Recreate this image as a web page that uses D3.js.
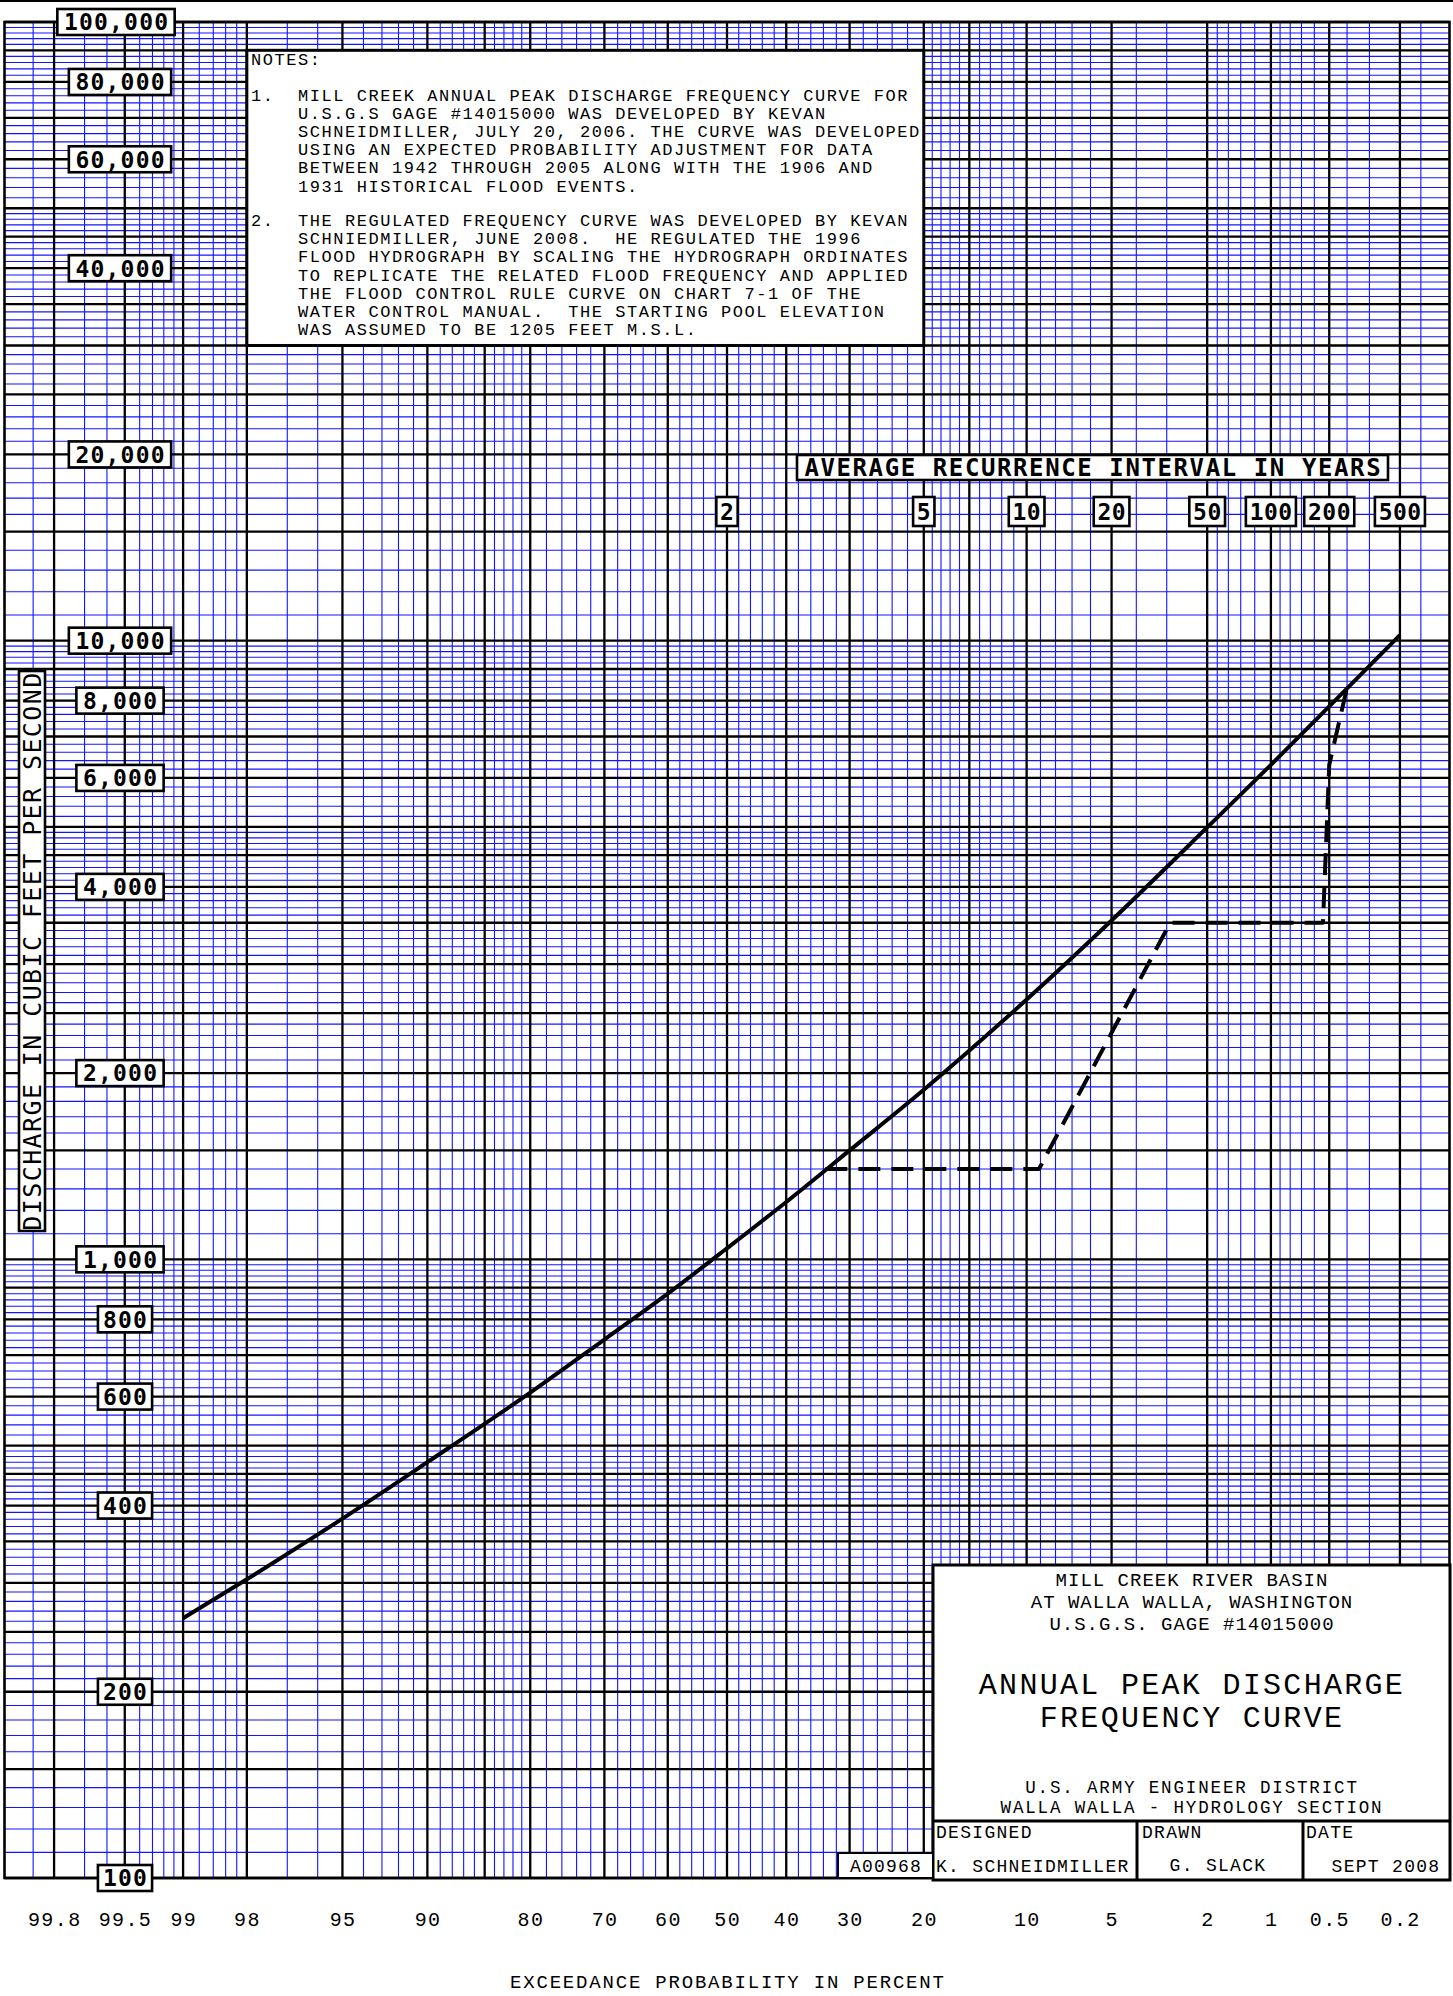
<!DOCTYPE html>
<html>
<head>
<meta charset="utf-8">
<script src="https://cdn.jsdelivr.net/npm/d3@7"></script>
<style>
  html, body { margin: 0; padding: 0; background: #fff; }
  svg { display: block; }
  text { white-space: pre; }
</style>
</head>
<body>
<svg id="chart"></svg>
<script>
// ---- Unregulated annual peak discharge frequency curve (exceedance %, cfs)
const exceedancePct = [99, 98, 95, 90, 80, 70, 60, 50, 40, 30, 20, 10, 5, 2, 1, 0.5, 0.2];
const dischargeCfs  = [263, 304, 381, 470, 609, 742, 880, 1042, 1238, 1500, 1880, 2630, 3530, 4990, 6300, 7830, 10210];

// ---- Regulated frequency curve (exceedance %, cfs)
const regulatedPct = [33.7, 9.1, 2.9, 0.54, 0.5, 0.4];
const regulatedCfs = [1400, 1400, 3500, 3500, 6300, 8400];

// ---- Probability axis
const probTickLabels = ["99.8", "99.5", "99", "98", "95", "90", "80", "70", "60", "50", "40", "30", "20", "10", "5", "2", "1", "0.5", "0.2"];
const majorProbLines = [99.8, 99.5, 99, 98, 95, 90, 85, 80, 70, 60, 50, 40, 30, 20, 15, 10, 5, 2, 1, 0.5, 0.2];
const minorProbLines = [99.85, 99.7, 99.6, 99.4, 99.3, 99.2, 99.1, 98.8, 98.6, 98.4, 98.2, 97, 96,
  94, 93, 92, 91, 89, 88, 87, 86, 84, 83, 82, 81, 78, 76, 74, 72, 68, 66, 64, 62, 58, 56, 54, 52,
  48, 46, 44, 42, 38, 36, 34, 32, 28, 26, 24, 22, 19, 18, 17, 16, 14, 13, 12, 11, 9, 8, 7, 6, 4, 3,
  1.8, 1.6, 1.4, 1.2, 0.9, 0.8, 0.7, 0.6, 0.4, 0.3, 0.15];
const probDomain = [99.9, 0.1];

// ---- Discharge axis (log cycles)
const dischargeTicks = [100000, 80000, 60000, 40000, 20000, 10000, 8000, 6000, 4000, 2000, 1000, 800, 600, 400, 200, 100];
const decadeStarts = [100, 1000, 10000];
const majorMultipliers = [1, 1.5, 2, 2.5, 3, 3.5, 4, 4.5, 5, 6, 7, 8, 9];
const minorMultipliers = [1.1, 1.2, 1.3, 1.4, 1.6, 1.7, 1.8, 1.9, 2.1, 2.2, 2.3, 2.4, 2.6, 2.7, 2.8, 2.9,
  3.1, 3.2, 3.3, 3.4, 3.6, 3.7, 3.8, 3.9, 4.1, 4.2, 4.3, 4.4, 4.6, 4.7, 4.8, 4.9,
  5.2, 5.4, 5.6, 5.8, 6.2, 6.4, 6.6, 6.8, 7.2, 7.4, 7.6, 7.8, 8.2, 8.4, 8.6, 8.8, 9.2, 9.4, 9.6, 9.8];
const dischargeDomain = [100, 100000];

// ---- Recurrence interval labels (years)
const recurrenceYears = [2, 5, 10, 20, 50, 100, 200, 500];

// ---- Text blocks
const noteOne = [
  "MILL CREEK ANNUAL PEAK DISCHARGE FREQUENCY CURVE FOR",
  "U.S.G.S GAGE #14015000 WAS DEVELOPED BY KEVAN",
  "SCHNEIDMILLER, JULY 20, 2006. THE CURVE WAS DEVELOPED",
  "USING AN EXPECTED PROBABILITY ADJUSTMENT FOR DATA",
  "BETWEEN 1942 THROUGH 2005 ALONG WITH THE 1906 AND",
  "1931 HISTORICAL FLOOD EVENTS."
];
const noteTwo = [
  "THE REGULATED FREQUENCY CURVE WAS DEVELOPED BY KEVAN",
  "SCHNIEDMILLER, JUNE 2008.  HE REGULATED THE 1996",
  "FLOOD HYDROGRAPH BY SCALING THE HYDROGRAPH ORDINATES",
  "TO REPLICATE THE RELATED FLOOD FREQUENCY AND APPLIED",
  "THE FLOOD CONTROL RULE CURVE ON CHART 7-1 OF THE",
  "WATER CONTROL MANUAL.  THE STARTING POOL ELEVATION",
  "WAS ASSUMED TO BE 1205 FEET M.S.L."
];
const titleHeader = ["MILL CREEK RIVER BASIN", "AT WALLA WALLA, WASHINGTON", "U.S.G.S. GAGE #14015000"];
const titleMain = ["ANNUAL PEAK DISCHARGE", "FREQUENCY CURVE"];
const titleAgency = ["U.S. ARMY ENGINEER DISTRICT", "WALLA WALLA - HYDROLOGY SECTION"];

// ---------------------------------------------------------------------------
const W = 1453, H = 1996;
const plotL = 4.5, plotR = 1449.5, plotT = 22, plotB = 1878;
const BLUE = "#1414ff";
const CAD = "'Liberation Mono', 'DejaVu Sans Mono', monospace";
const BOX = "'DejaVu Sans Mono', monospace";

// Inverse of the standard normal CDF (Acklam's rational approximation)
function probit(p) {
  const a = [-3.969683028665376e+01, 2.209460984245205e+02, -2.759285104469687e+02, 1.383577518672690e+02, -3.066479806614716e+01, 2.506628277459239e+00];
  const b = [-5.447609879822406e+01, 1.615858368580409e+02, -1.556989798598866e+02, 6.680131188771972e+01, -1.328068155288572e+01];
  const c = [-7.784894002430293e-03, -3.223964580411365e-01, -2.400758277161838e+00, -2.549732539343734e+00, 4.374664141464968e+00, 2.938163982698783e+00];
  const d = [7.784695709041462e-03, 3.224671290700398e-01, 2.445134137142996e+00, 3.754408661907416e+00];
  const pl = 0.02425, ph = 1 - pl;
  let q, r;
  if (p < pl) {
    q = Math.sqrt(-2 * Math.log(p));
    return (((((c[0]*q+c[1])*q+c[2])*q+c[3])*q+c[4])*q+c[5]) / ((((d[0]*q+d[1])*q+d[2])*q+d[3])*q+1);
  }
  if (p > ph) {
    q = Math.sqrt(-2 * Math.log(1 - p));
    return -(((((c[0]*q+c[1])*q+c[2])*q+c[3])*q+c[4])*q+c[5]) / ((((d[0]*q+d[1])*q+d[2])*q+d[3])*q+1);
  }
  q = p - 0.5; r = q * q;
  return (((((a[0]*r+a[1])*r+a[2])*r+a[3])*r+a[4])*r+a[5])*q / (((((b[0]*r+b[1])*r+b[2])*r+b[3])*r+b[4])*r+1);
}

// Normal-probability scale: exceedance percent -> standard normal deviate -> pixels
const zScale = d3.scaleLinear()
  .domain(probDomain.map(p => probit(1 - p / 100)))
  .range([plotL, plotR]);
const x = p => zScale(probit(1 - p / 100));
const y = d3.scaleLog().domain(dischargeDomain).range([plotB, plotT]);

const svg = d3.select("#chart").attr("width", W).attr("height", H)
  .attr("viewBox", `0 0 ${W} ${H}`);
svg.append("rect").attr("width", W).attr("height", H).attr("fill", "#fff");

// ---- Grid: minor blue lines first, then the heavy black rulings
const minorValues = decadeStarts.flatMap(d => minorMultipliers.map(m => d * m));
const majorValues = decadeStarts.flatMap(d => majorMultipliers.map(m => d * m)).concat([dischargeDomain[1]]);

const grid = svg.append("g");
grid.append("g").selectAll("line").data(minorProbLines).join("line")
  .attr("x1", d => x(d)).attr("x2", d => x(d)).attr("y1", plotT).attr("y2", plotB)
  .attr("stroke", BLUE).attr("stroke-width", 1.1);
grid.append("g").selectAll("line").data(minorValues).join("line")
  .attr("x1", plotL).attr("x2", plotR).attr("y1", d => y(d)).attr("y2", d => y(d))
  .attr("stroke", BLUE).attr("stroke-width", 1.1);
grid.append("g").selectAll("line").data(majorProbLines).join("line")
  .attr("x1", d => x(d)).attr("x2", d => x(d)).attr("y1", plotT).attr("y2", plotB)
  .attr("stroke", "#000").attr("stroke-width", 2.3);
grid.append("g").selectAll("line").data(majorValues).join("line")
  .attr("x1", plotL).attr("x2", plotR).attr("y1", d => y(d)).attr("y2", d => y(d))
  .attr("stroke", "#000").attr("stroke-width", 2.3);

// Plot frame
svg.append("rect").attr("x", plotL).attr("y", plotT).attr("width", plotR - plotL).attr("height", plotB - plotT)
  .attr("fill", "none").attr("stroke", "#000").attr("stroke-width", 2.6);
svg.append("line").attr("x1", 0).attr("x2", W).attr("y1", 1).attr("y2", 1)
  .attr("stroke", "#000").attr("stroke-width", 2);

// ---- Notes box (spans 98%..20% and 90,000..30,000 cfs rulings)
const nx0 = x(98), nx1 = x(20), ny0 = y(90000), ny1 = y(30000);
svg.append("rect").attr("x", nx0).attr("y", ny0).attr("width", nx1 - nx0).attr("height", ny1 - ny0)
  .attr("fill", "#fff").attr("stroke", "#000").attr("stroke-width", 3);
const notes = svg.append("g").attr("font-family", CAD).attr("font-size", 17)
  .attr("letter-spacing", 1.55).attr("fill", "#000");
notes.append("text").attr("x", 251).attr("y", 65).text("NOTES:");
notes.append("text").attr("x", 251).attr("y", 100.5).text("1.");
notes.selectAll("text.n1").data(noteOne).join("text").attr("class", "n1")
  .attr("x", 298).attr("y", (d, i) => 100.5 + i * 18.2).text(d => d);
notes.append("text").attr("x", 251).attr("y", 226).text("2.");
notes.selectAll("text.n2").data(noteTwo).join("text").attr("class", "n2")
  .attr("x", 298).attr("y", (d, i) => 226 + i * 18.2).text(d => d);

// ---- Boxed label helper
function boxedLabel(g, cx, cy, label, size, padX, boxH, weight, spacing) {
  const t = g.append("text").attr("x", cx).attr("y", cy + size * 0.729 / 2)
    .attr("text-anchor", "middle").attr("font-family", BOX).attr("font-size", size)
    .attr("font-weight", weight).attr("letter-spacing", spacing).attr("fill", "#000").text(label);
  const w = t.node().getComputedTextLength();
  g.insert("rect", () => t.node())
    .attr("x", cx - w / 2 - padX).attr("y", cy - boxH / 2)
    .attr("width", w + 2 * padX).attr("height", boxH)
    .attr("fill", "#fff").attr("stroke", "#000").attr("stroke-width", 2.6);
  t.attr("x", cx + spacing / 2);
}

// ---- Discharge tick labels
const yLabels = svg.append("g");
dischargeTicks.forEach(v => {
  const cx = v >= 100000 ? 116 : v >= 1000 ? 120 : 125;
  boxedLabel(yLabels, cx, y(v), d3.format(",")(v), 23, v >= 1000 ? 6 : 4.5, 26, "bold", 1.2);
});

// Axis title, rotated
const yTitle = svg.append("g");
yTitle.append("rect").attr("x", 19).attr("y", 671).attr("width", 26).attr("height", 560)
  .attr("fill", "#fff").attr("stroke", "#000").attr("stroke-width", 2.6);
yTitle.append("text").attr("transform", "translate(" + (32 + 25 * 0.729 / 2) + ",951) rotate(-90)")
  .attr("text-anchor", "middle").attr("font-family", BOX).attr("font-size", 25)
  .attr("letter-spacing", 1.4).text("DISCHARGE IN CUBIC FEET PER SECOND");

// ---- Recurrence interval header and labels
const rec = svg.append("g");
rec.append("rect").attr("x", 797).attr("y", 455).attr("width", 591).attr("height", 25)
  .attr("fill", "#fff").attr("stroke", "#000").attr("stroke-width", 2.6);
rec.append("text").attr("x", 1092.5 + 0.8).attr("y", 467.5 + 24 * 0.729 / 2).attr("text-anchor", "middle")
  .attr("font-family", BOX).attr("font-size", 24).attr("font-weight", "bold").attr("letter-spacing", 1.6)
  .text("AVERAGE RECURRENCE INTERVAL IN YEARS");
recurrenceYears.forEach(T => boxedLabel(rec, x(100 / T), 511.5, String(T), 23, 3.5, 29, "bold", 0.5));

// ---- Title block
const tb = svg.append("g").attr("font-family", CAD).attr("fill", "#000");
tb.append("rect").attr("x", 933).attr("y", 1565).attr("width", 517).attr("height", 315)
  .attr("fill", "#fff").attr("stroke", "#000").attr("stroke-width", 3);
tb.append("line").attr("x1", 933).attr("x2", 1450).attr("y1", 1821).attr("y2", 1821)
  .attr("stroke", "#000").attr("stroke-width", 3);
[1137, 1303].forEach(cx => tb.append("line").attr("x1", cx).attr("x2", cx).attr("y1", 1821).attr("y2", 1880)
  .attr("stroke", "#000").attr("stroke-width", 3));
tb.append("rect").attr("x", 838).attr("y", 1853).attr("width", 95).attr("height", 25)
  .attr("fill", "#fff").attr("stroke", "#000").attr("stroke-width", 2);
tb.append("text").attr("x", 886).attr("y", 1872).attr("text-anchor", "middle").attr("font-size", 18)
  .attr("letter-spacing", 1.2).text("A00968");

tb.selectAll("text.hdr").data(titleHeader).join("text").attr("class", "hdr")
  .attr("x", 1192).attr("y", (d, i) => 1585.5 + i * 22.2).attr("text-anchor", "middle")
  .attr("font-size", 19).attr("letter-spacing", 1.0).text(d => d);
tb.selectAll("text.main").data(titleMain).join("text").attr("class", "main")
  .attr("x", 1192).attr("y", (d, i) => 1693.5 + i * 33.5).attr("text-anchor", "middle")
  .attr("font-size", 30).attr("letter-spacing", 2.3).text(d => d);
tb.selectAll("text.agency").data(titleAgency).join("text").attr("class", "agency")
  .attr("x", 1192).attr("y", (d, i) => 1793 + i * 20).attr("text-anchor", "middle")
  .attr("font-size", 17.5).attr("letter-spacing", 1.85).text(d => d);
const small = [
  {t: "DESIGNED", x: 936, y: 1838, a: "start"},
  {t: "K. SCHNEIDMILLER", x: 936, y: 1872, a: "start"},
  {t: "DRAWN", x: 1142, y: 1838, a: "start"},
  {t: "G. SLACK", x: 1218, y: 1871, a: "middle"},
  {t: "DATE", x: 1306, y: 1838, a: "start"},
  {t: "SEPT 2008", x: 1386, y: 1872, a: "middle"}
];
tb.selectAll("text.sm").data(small).join("text").attr("class", "sm")
  .attr("x", d => d.x).attr("y", d => d.y).attr("text-anchor", d => d.a)
  .attr("font-size", 18).attr("letter-spacing", 1.3).text(d => d.t);

// ---- Frequency curves
const unregulated = exceedancePct.map((p, i) => ({p, q: dischargeCfs[i]}));
const regulated = regulatedPct.map((p, i) => ({p, q: regulatedCfs[i]}));
svg.append("path").datum(unregulated)
  .attr("d", d3.line().x(d => x(d.p)).y(d => y(d.q)).curve(d3.curveMonotoneX))
  .attr("fill", "none").attr("stroke", "#000").attr("stroke-width", 4).attr("stroke-linejoin", "round");
svg.append("path").datum(regulated)
  .attr("d", d3.line().x(d => x(d.p)).y(d => y(d.q)))
  .attr("fill", "none").attr("stroke", "#000").attr("stroke-width", 4)
  .attr("stroke-dasharray", "22 11").attr("stroke-linejoin", "round");

// ---- Probability axis labels
const xg = svg.append("g").attr("transform", `translate(0,${plotB})`);
xg.selectAll("text").data(probTickLabels).join("text")
  .attr("x", d => x(+d) + 0.7).attr("y", 48).attr("text-anchor", "middle")
  .attr("font-family", CAD).attr("font-size", 20).attr("letter-spacing", 1.4)
  .attr("fill", "#000").text(d => d);
svg.append("text").attr("x", x(50) + 0.9).attr("y", 1988).attr("text-anchor", "middle")
  .attr("font-family", CAD).attr("font-size", 19).attr("letter-spacing", 1.8)
  .text("EXCEEDANCE PROBABILITY IN PERCENT");
</script>
</body>
</html>
